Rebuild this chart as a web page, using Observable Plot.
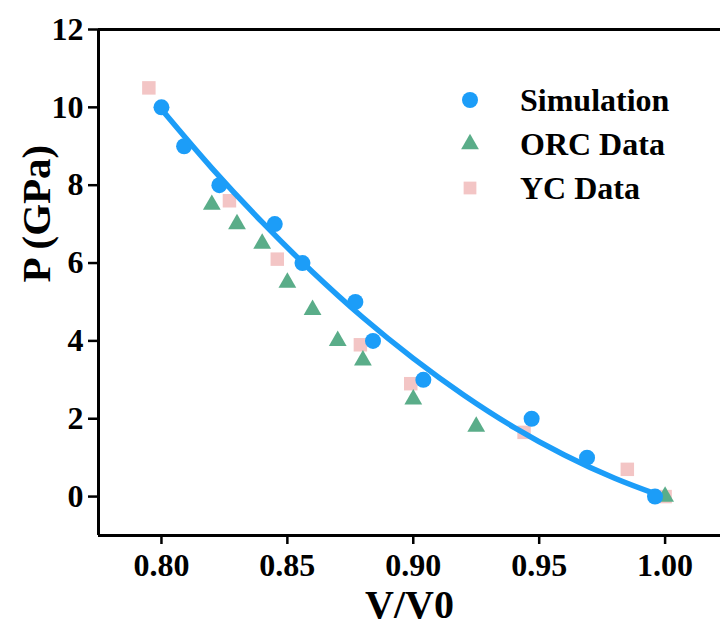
<!DOCTYPE html>
<html>
<head>
<meta charset="utf-8">
<script src="https://cdn.jsdelivr.net/npm/d3@7"></script>
<script src="https://cdn.jsdelivr.net/npm/@observablehq/plot@0.6"></script>
<style>
  html, body { margin: 0; padding: 0; background: #fff; }
  #wrap { position: relative; width: 720px; height: 628px; overflow: hidden; }
  #legend { position: absolute; left: 456px; top: 78px; font-family: "Liberation Serif", "Times New Roman", serif; font-weight: bold; font-size: 32px; color: #000; }
  .row { display: flex; align-items: center; height: 44px; }
  .row svg { width: 28px; height: 28px; flex: none; }
  .row span { margin-left: 36px; line-height: 1; }
</style>
</head>
<body>
<div id="wrap"></div>
<script>
// Simulation (blue circles)
const simV = [0.800, 0.809, 0.823, 0.845, 0.856, 0.877, 0.884, 0.904, 0.947, 0.969, 0.996];
const simP = [10, 9, 8, 7, 6, 5, 4, 3, 2, 1, 0];
// ORC Data (green triangles)
const orcV = [0.820, 0.830, 0.840, 0.850, 0.860, 0.870, 0.880, 0.900, 0.925, 1.000];
const orcP = [7.5, 7.0, 6.5, 5.5, 4.8, 4.0, 3.5, 2.5, 1.8, 0.0];
// YC Data (pink squares)
const ycV = [0.795, 0.827, 0.846, 0.879, 0.899, 0.944, 0.985, 1.000];
const ycP = [10.5, 7.6, 6.1, 3.9, 2.9, 1.65, 0.7, 0.0];
// Fitted curve
const fitV = [0.800, 0.820, 0.840, 0.860, 0.880, 0.900, 0.920, 0.940, 0.960, 0.980, 0.997];
const fitP = [9.95, 8.44, 7.05, 5.77, 4.60, 3.55, 2.61, 1.78, 1.07, 0.47, 0.05];
// Axis ticks
const xTicks = [0.80, 0.85, 0.90, 0.95, 1.00];
const yTicks = [0, 2, 4, 6, 8, 10, 12];
const xDomain = [0.775, 1.022];
const yDomain = [-1, 12];
const seriesNames = ["Simulation", "ORC Data", "YC Data"];

const colors = { sim: "#1C9DF8", orc: "#5AAD89", yc: "#F3C5C5" };

const sim = simV.map((v, i) => ({ v, p: simP[i] }));
const orc = orcV.map((v, i) => ({ v, p: orcP[i] }));
const yc = ycV.map((v, i) => ({ v, p: ycP[i] }));
const fit = fitV.map((v, i) => ({ v, p: fitP[i] }));

const fontFamily = '"Liberation Serif", "Times New Roman", serif';

const chart = Plot.plot({
  width: 720,
  height: 628,
  marginLeft: 98,
  marginRight: 0,
  marginTop: 29,
  marginBottom: 93,
  style: { fontFamily, fontWeight: "bold", fontSize: "32px", color: "#000", background: "#fff" },
  x: { domain: xDomain },
  y: { domain: yDomain },
  marks: [
    Plot.ruleY([yDomain[1]], { stroke: "#000", strokeWidth: 3 }),
    Plot.ruleY([yDomain[0]], { stroke: "#000", strokeWidth: 3 }),
    Plot.ruleX([xDomain[0]], { stroke: "#000", strokeWidth: 3 }),
    Plot.axisX({ ticks: xTicks, tickFormat: d3.format(".2f"), tickSize: 9, tickPadding: 9, strokeWidth: 2.5, fontSize: 32, label: null }),
    Plot.axisY({ ticks: yTicks, tickFormat: d3.format("d"), tickSize: 10, tickPadding: 5, strokeWidth: 2.5, fontSize: 32, label: null }),
    Plot.text(["V/V0"], { frameAnchor: "bottom", lineAnchor: "bottom", dy: 82, fontSize: 40, fontWeight: "bold" }),
    Plot.text(["P (GPa)"], { frameAnchor: "left", rotate: -90, lineAnchor: "top", dx: -78, fontSize: 41, fontWeight: "bold" }),
    Plot.dot(yc, { x: "v", y: "p", symbol: "square", r: 7.6, fill: colors.yc, stroke: "none" }),
    Plot.dot(orc, { x: "v", y: "p", symbol: "triangle", r: 6.6, fill: colors.orc, stroke: "none" }),
    Plot.line(fit, { x: "v", y: "p", curve: "catmull-rom", stroke: colors.sim, strokeWidth: 5.5 }),
    Plot.dot(sim, { x: "v", y: "p", r: 8, fill: colors.sim, stroke: "none" })
  ]
});

const wrap = document.getElementById("wrap");
wrap.appendChild(chart);

// Legend
const legend = document.createElement("div");
legend.id = "legend";
const symbols = [
  `<svg viewBox="-14 -14 28 28"><circle r="8" fill="${colors.sim}"/></svg>`,
  `<svg viewBox="-14 -14 28 28"><path d="${d3.symbol(d3.symbolTriangle, Math.PI * 6.6 * 6.6)()}" fill="${colors.orc}"/></svg>`,
  `<svg viewBox="-14 -14 28 28"><path d="${d3.symbol(d3.symbolSquare, Math.PI * 7.2 * 7.2)()}" fill="${colors.yc}"/></svg>`
];
seriesNames.forEach((name, i) => {
  const row = document.createElement("div");
  row.className = "row";
  row.innerHTML = symbols[i] + `<span>${name}</span>`;
  legend.appendChild(row);
});
wrap.appendChild(legend);
</script>
</body>
</html>
